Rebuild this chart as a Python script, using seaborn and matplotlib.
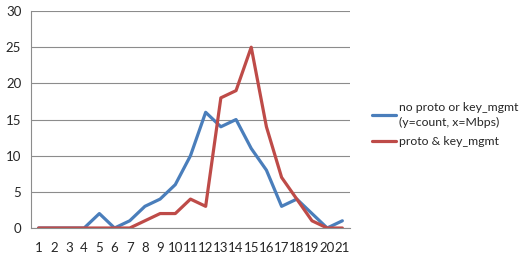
import matplotlib
matplotlib.use("Agg")
import matplotlib.pyplot as plt
import seaborn as sns
import pandas as pd
import numpy as np
from matplotlib.lines import Line2D

categories = list(range(1, 22))
no_proto = [0, 0, 0, 0, 2, 0, 1, 3, 4, 6, 10, 16, 14, 15, 11, 8, 3, 4, 2, 0, 1]
proto = [0, 0, 0, 0, 0, 0, 0, 1, 2, 2, 4, 3, 18, 19, 25, 14, 7, 4, 1, 0, 0]
series_names = ["no proto or key_mgmt\n(y=count, x=Mbps)", "proto & key_mgmt"]
colors = ["#4A7EBB", "#BE4B48"]

df = pd.DataFrame({
    "x": categories * 2,
    "y": no_proto + proto,
    "series": [series_names[0]] * len(categories) + [series_names[1]] * len(categories),
})

sns.set_style("white")
plt.rcParams["font.family"] = ["Lato", "DejaVu Sans"]

fig = plt.figure(figsize=(5.22, 2.63), dpi=100)
ax = fig.add_axes([0.0594, 0.133, 0.611, 0.825])

sns.lineplot(data=df, x="x", y="y", hue="series", palette=colors, linewidth=2.3,
             ax=ax, legend=False)

ax.set_xlim(0.5, 21.5)
ax.set_ylim(0, 30)
ax.set_yticks([0, 5, 10, 15, 20, 25, 30])
ax.yaxis.grid(True, color="#8c8c8c", linewidth=0.8)
ax.set_axisbelow(True)
ax.set_xticks(categories)
ax.set_xticklabels([str(c) for c in categories])
ax.set_xticks(np.arange(0.5, 22, 1), minor=True)
ax.tick_params(axis="x", which="major", length=0, pad=10, labelsize=9.5)
ax.tick_params(axis="x", which="minor", length=5, color="#8c8c8c", width=0.8, direction="out")
ax.tick_params(axis="y", length=4, color="#8c8c8c", width=0.8, direction="out", labelsize=9.5, pad=3)
ax.set_xlabel("")
ax.set_ylabel("")
for s in ["top", "right"]:
    ax.spines[s].set_visible(False)
for s in ["left", "bottom"]:
    ax.spines[s].set_color("#8c8c8c")
    ax.spines[s].set_linewidth(0.8)

handles = [Line2D([], [], color=c, linewidth=2.3) for c in colors]
leg = fig.legend(handles, series_names, loc="upper left", bbox_to_anchor=(0.703, 0.632),
                 frameon=False, fontsize=8.8, handlelength=2.0, handletextpad=0.2,
                 labelspacing=0.65, borderaxespad=0)
for t in leg.get_texts():
    t.set_linespacing(1.5)

fig.savefig("out.png", dpi=100)
